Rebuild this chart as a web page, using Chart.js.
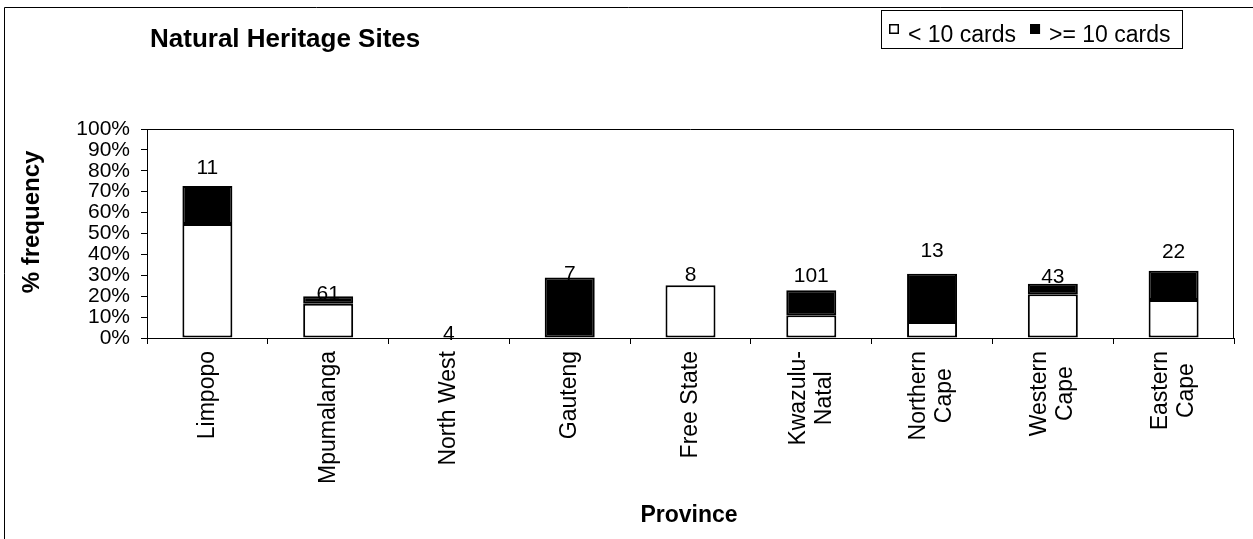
<!DOCTYPE html>
<html>
<head>
<meta charset="utf-8">
<title>Natural Heritage Sites</title>
<script src="https://cdn.jsdelivr.net/npm/chart.js@4.4.0/dist/chart.umd.min.js"></script>
<style>
  html, body { margin: 0; padding: 0; background: #fff; }
  #wrap { width: 1253px; height: 539px; }
</style>
</head>
<body>
<div id="wrap"><canvas id="chart" width="1253" height="539"></canvas></div>
<script>
// Provinces along the x axis (multi-line names are split into lines)
const provinces = [
  'Limpopo', 'Mpumalanga', 'North West', 'Gauteng', 'Free State',
  ['Kwazulu-', 'Natal'], ['Northern', 'Cape'], ['Western', 'Cape'], ['Eastern', 'Cape']
];
// % of sites with fewer than 10 cards
const shareUnder10 = [54.5, 16.4, 0, 0, 25.2, 10.9, 7.7, 20.9, 18.2];
// % of sites with 10 or more cards
const shareOver10 = [18.2, 3.6, 0, 29.0, 0, 11.9, 23.1, 5.1, 14.0];
// number of sites per province
const siteCounts = [11, 61, 4, 7, 8, 101, 13, 43, 22];
// y value (in %) at which each count is written
const countLabelLevels = [82.0, 21.8, 2.6, 31.3, 31.0, 30.4, 42.5, 30.1, 42.1];
// series names
const seriesNames = ['< 10 cards', '>= 10 cards'];

const FONT = '"Liberation Sans", Arial, Helvetica, sans-serif';
Chart.defaults.font.family = FONT;
Chart.defaults.color = '#000';

const frame = {
  id: 'frame',
  beforeDraw(chart) {
    const ctx = chart.ctx;
    ctx.save();
    ctx.fillStyle = '#fff';
    ctx.fillRect(0, 0, chart.width, chart.height);
    // outer border
    ctx.strokeStyle = '#000';
    ctx.lineWidth = 1;
    ctx.beginPath();
    ctx.moveTo(4.5, chart.height);
    ctx.lineTo(4.5, 7.5);
    ctx.lineTo(chart.width, 7.5);
    ctx.stroke();

    // title
    ctx.fillStyle = '#000';
    ctx.font = 'bold 26px ' + FONT;
    ctx.textAlign = 'left';
    ctx.textBaseline = 'alphabetic';
    ctx.fillText('Natural Heritage Sites', 150, 47);

    // legend
    ctx.font = '23px ' + FONT;
    const ds = chart.data.datasets;
    let x = 889;
    const items = [];
    ds.forEach((d, i) => {
      const w = ctx.measureText(d.label).width;
      items.push({ d, markX: x, textX: x + 19, w });
      x += 19 + w + 14;
    });
    const boxLeft = 881.5, boxTop = 10.5;
    const boxRight = Math.round(x - 14 + 11) + 0.5;
    ctx.fillStyle = '#fff';
    ctx.fillRect(boxLeft, boxTop, boxRight - boxLeft, 38);
    ctx.strokeRect(boxLeft, boxTop, boxRight - boxLeft, 38);
    items.forEach(it => {
      ctx.fillStyle = it.d.backgroundColor;
      ctx.fillRect(it.markX, 24, 10, 10);
      ctx.lineWidth = 1.5;
      ctx.strokeStyle = '#000';
      ctx.strokeRect(it.markX + 0.75, 24.75, 8.5, 8.5);
      ctx.fillStyle = '#000';
      ctx.fillText(it.d.label, it.textX, 42);
    });

    // axis titles
    ctx.font = 'bold 24px ' + FONT;
    ctx.textAlign = 'center';
    ctx.textBaseline = 'middle';
    ctx.save();
    ctx.translate(32, 222);
    ctx.rotate(-Math.PI / 2);
    ctx.fillText('% frequency', 0, 0);
    ctx.restore();
    ctx.font = 'bold 23px ' + FONT;
    ctx.textBaseline = 'alphabetic';
    ctx.fillText('Province', 689, 522);
    ctx.restore();
  },
  beforeDatasetsDraw(chart) {
    // site counts sit behind the bars
    const ctx = chart.ctx, xs = chart.scales.x, ys = chart.scales.y;
    ctx.save();
    ctx.font = '21px ' + FONT;
    ctx.fillStyle = '#000';
    ctx.textAlign = 'center';
    ctx.textBaseline = 'alphabetic';
    siteCounts.forEach((n, i) => {
      const y = ys.getPixelForValue(countLabelLevels[i]) + 0.358 * 21;
      ctx.fillText(String(n), xs.getPixelForValue(i), y);
    });
    ctx.restore();
  },
  afterDraw(chart) {
    const ctx = chart.ctx, a = chart.chartArea, xs = chart.scales.x;
    ctx.save();
    // top and right edges of the plot area
    ctx.strokeStyle = '#000';
    ctx.lineWidth = 1;
    ctx.beginPath();
    ctx.moveTo(Math.round(a.left) + 0.5, Math.round(a.top) + 0.5);
    ctx.lineTo(Math.round(a.right) - 0.5, Math.round(a.top) + 0.5);
    ctx.lineTo(Math.round(a.right) - 0.5, Math.round(a.bottom));
    ctx.stroke();

    // rotated category names, lines centred on each other
    ctx.font = '23px ' + FONT;
    ctx.fillStyle = '#000';
    ctx.textAlign = 'center';
    ctx.textBaseline = 'middle';
    const lh = 26;
    const top = a.bottom + 13;
    provinces.forEach((p, i) => {
      const lines = Array.isArray(p) ? p : [p];
      const maxW = Math.max(...lines.map(l => ctx.measureText(l).width));
      const cx = xs.getPixelForValue(i);
      lines.forEach((l, j) => {
        const lx = cx + (j - (lines.length - 1) / 2) * lh;
        ctx.save();
        ctx.translate(lx, top + maxW / 2);
        ctx.rotate(-Math.PI / 2);
        ctx.fillText(l, 0, 0);
        ctx.restore();
      });
    });
    ctx.restore();
  }
};

new Chart(document.getElementById('chart'), {
  type: 'bar',
  data: {
    labels: provinces,
    datasets: [
      {
        label: seriesNames[0],
        data: shareUnder10,
        backgroundColor: '#ffffff',
        borderColor: '#000000',
        borderWidth: 2,
        borderSkipped: false
      },
      {
        label: seriesNames[1],
        data: shareOver10,
        backgroundColor: '#000000',
        borderColor: '#000000',
        borderWidth: 2,
        borderSkipped: false
      }
    ]
  },
  options: {
    responsive: false,
    animation: false,
    events: [],
    layout: { padding: { left: 0, top: 129, right: 19, bottom: 0 } },
    datasets: { bar: { categoryPercentage: 1, barPercentage: 0.414 } },
    plugins: { legend: { display: false }, title: { display: false }, tooltip: { enabled: false } },
    scales: {
      x: {
        stacked: true,
        grid: { display: true, offset: true, drawOnChartArea: false, drawTicks: true, tickLength: 6, color: '#000', tickColor: '#000' },
        border: { display: true, color: '#000', width: 1 },
        ticks: { display: false },
        afterFit(s) { s.height = 201; s.paddingLeft = 0; s.paddingRight = 0; }
      },
      y: {
        stacked: true,
        min: 0,
        max: 100,
        grid: { display: true, drawOnChartArea: false, drawTicks: true, tickLength: 6, color: '#000', tickColor: '#000' },
        border: { display: true, color: '#000', width: 1 },
        ticks: {
          stepSize: 10,
          autoSkip: false,
          padding: 11,
          color: '#000',
          font: { size: 21, family: FONT },
          callback: v => v + '%'
        },
        afterFit(s) { s.width = 147; s.paddingTop = 0; s.paddingBottom = 0; }
      }
    }
  },
  plugins: [frame]
});
</script>
</body>
</html>
